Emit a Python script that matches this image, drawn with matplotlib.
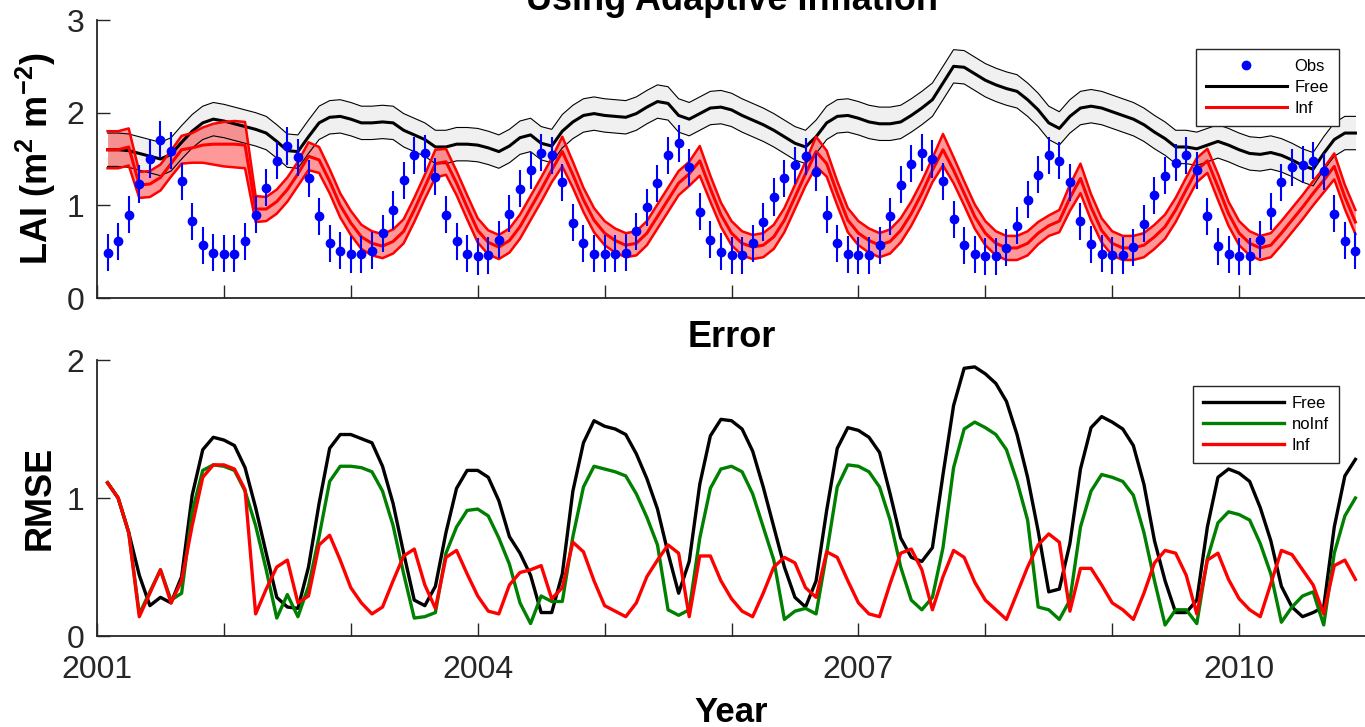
import numpy as np
import matplotlib
matplotlib.use("Agg")
import matplotlib.pyplot as plt

plt.rcParams["font.family"] = ["Liberation Sans", "DejaVu Sans"]
plt.rcParams["mathtext.fontset"] = "custom"
plt.rcParams["mathtext.rm"] = "Liberation Sans"
plt.rcParams["mathtext.bf"] = "Liberation Sans:bold"

# monthly time steps, Feb 2001 .. Nov 2010
month = np.arange(1, 120)
years = 2001 + month / 12.0

# --- LAI panel ---
obs_lai = [0.49, 0.61, 0.90, 1.23, 1.50, 1.71, 1.59, 1.26, 0.83, 0.57, 0.49, 0.48,
           0.48, 0.61, 0.90, 1.19, 1.48, 1.64, 1.52, 1.29, 0.88, 0.59, 0.51, 0.47,
           0.47, 0.51, 0.70, 0.95, 1.27, 1.54, 1.56, 1.31, 0.90, 0.61, 0.48, 0.45,
           0.46, 0.63, 0.91, 1.18, 1.38, 1.57, 1.54, 1.25, 0.81, 0.59, 0.48, 0.48,
           0.48, 0.49, 0.72, 0.98, 1.24, 1.54, 1.67, 1.41, 0.93, 0.63, 0.50, 0.46,
           0.46, 0.59, 0.82, 1.09, 1.29, 1.43, 1.53, 1.36, 0.90, 0.59, 0.47, 0.46,
           0.46, 0.57, 0.88, 1.22, 1.45, 1.57, 1.50, 1.26, 0.85, 0.57, 0.47, 0.45,
           0.45, 0.54, 0.78, 1.06, 1.33, 1.54, 1.48, 1.25, 0.83, 0.58, 0.48, 0.46,
           0.46, 0.55, 0.80, 1.11, 1.32, 1.46, 1.54, 1.38, 0.88, 0.56, 0.47, 0.45,
           0.45, 0.63, 0.93, 1.25, 1.41, 1.44, 1.48, 1.37, 0.91, 0.62, 0.51]
obs_err = 0.2

free_lai = [1.60, 1.60, 1.59, 1.56, 1.53, 1.50, 1.55, 1.68, 1.80, 1.89, 1.93, 1.91,
            1.88, 1.85, 1.82, 1.78, 1.69, 1.59, 1.58, 1.74, 1.89, 1.95, 1.96, 1.93,
            1.89, 1.89, 1.90, 1.89, 1.81, 1.76, 1.71, 1.63, 1.63, 1.66, 1.66, 1.65,
            1.62, 1.58, 1.64, 1.73, 1.76, 1.67, 1.64, 1.80, 1.90, 1.97, 1.99, 1.97,
            1.96, 1.95, 1.99, 2.06, 2.12, 2.10, 1.97, 1.93, 1.99, 2.05, 2.06, 2.03,
            1.97, 1.92, 1.87, 1.81, 1.74, 1.67, 1.63, 1.74, 1.89, 1.96, 1.97, 1.94,
            1.90, 1.88, 1.88, 1.90, 1.97, 2.05, 2.14, 2.32, 2.50, 2.49, 2.42, 2.35,
            2.30, 2.26, 2.23, 2.14, 2.03, 1.89, 1.83, 1.96, 2.05, 2.07, 2.05, 2.01,
            1.97, 1.93, 1.87, 1.79, 1.72, 1.63, 1.63, 1.61, 1.65, 1.69, 1.65, 1.60,
            1.56, 1.55, 1.57, 1.54, 1.49, 1.43, 1.39, 1.56, 1.71, 1.78, 1.78]
free_spread = 0.18

inf_lai = [1.60, 1.60, 1.63, 1.22, 1.23, 1.30, 1.45, 1.60, 1.62, 1.65, 1.66, 1.66,
           1.66, 1.65, 0.96, 0.96, 1.04, 1.17, 1.34, 1.53, 1.49, 1.26, 1.00, 0.81,
           0.66, 0.59, 0.56, 0.61, 0.72, 0.95, 1.20, 1.45, 1.47, 1.24, 0.98, 0.73,
           0.60, 0.55, 0.62, 0.77, 0.97, 1.17, 1.38, 1.58, 1.33, 1.06, 0.84, 0.70,
           0.62, 0.57, 0.59, 0.70, 0.88, 1.06, 1.24, 1.34, 1.48, 1.18, 0.90, 0.70,
           0.59, 0.55, 0.57, 0.66, 0.84, 1.09, 1.34, 1.58, 1.45, 1.13, 0.84, 0.70,
           0.62, 0.57, 0.61, 0.73, 0.91, 1.13, 1.38, 1.60, 1.38, 1.13, 0.88, 0.70,
           0.59, 0.54, 0.54, 0.59, 0.70, 0.78, 0.83, 1.08, 1.29, 0.98, 0.73, 0.59,
           0.54, 0.54, 0.57, 0.66, 0.77, 0.95, 1.17, 1.38, 1.48, 1.20, 0.91, 0.70,
           0.59, 0.54, 0.57, 0.70, 0.84, 0.98, 1.13, 1.27, 1.42, 1.09, 0.82]
inf_spread = [0.20, 0.20, 0.20, 0.14, 0.14, 0.14, 0.14, 0.15, 0.16, 0.19, 0.22, 0.24,
              0.25, 0.25, 0.14, 0.13, 0.13, 0.13, 0.13, 0.15, 0.14, 0.13, 0.13, 0.13,
              0.13, 0.13, 0.13, 0.13, 0.13, 0.13, 0.13, 0.15, 0.14, 0.13, 0.13, 0.13,
              0.13, 0.13, 0.13, 0.13, 0.13, 0.13, 0.13, 0.16, 0.14, 0.13, 0.13, 0.13,
              0.13, 0.13, 0.13, 0.13, 0.13, 0.13, 0.13, 0.13, 0.16, 0.14, 0.13, 0.13,
              0.13, 0.13, 0.13, 0.13, 0.13, 0.13, 0.13, 0.16, 0.14, 0.13, 0.13, 0.13,
              0.13, 0.13, 0.13, 0.13, 0.13, 0.13, 0.13, 0.17, 0.14, 0.13, 0.13, 0.13,
              0.13, 0.13, 0.13, 0.13, 0.12, 0.11, 0.12, 0.14, 0.16, 0.14, 0.13, 0.13,
              0.13, 0.13, 0.13, 0.13, 0.13, 0.13, 0.13, 0.13, 0.13, 0.14, 0.13, 0.13,
              0.13, 0.13, 0.13, 0.13, 0.13, 0.13, 0.13, 0.13, 0.14, 0.13, 0.13]

# --- RMSE panel ---
rmse_free = [1.11, 1.00, 0.75, 0.44, 0.22, 0.28, 0.24, 0.43, 1.02, 1.35, 1.44, 1.42,
             1.38, 1.22, 0.93, 0.60, 0.28, 0.21, 0.20, 0.50, 0.96, 1.36, 1.46, 1.46,
             1.43, 1.40, 1.23, 0.96, 0.60, 0.26, 0.22, 0.36, 0.75, 1.07, 1.20, 1.20,
             1.15, 0.98, 0.72, 0.60, 0.44, 0.17, 0.17, 0.45, 1.05, 1.40, 1.56, 1.52,
             1.50, 1.46, 1.32, 1.14, 0.92, 0.60, 0.31, 0.54, 1.10, 1.45, 1.57, 1.56,
             1.50, 1.34, 1.08, 0.79, 0.50, 0.28, 0.21, 0.40, 0.91, 1.36, 1.51, 1.49,
             1.44, 1.33, 1.03, 0.71, 0.57, 0.54, 0.64, 1.17, 1.67, 1.94, 1.95, 1.90,
             1.83, 1.70, 1.46, 1.15, 0.76, 0.32, 0.34, 0.67, 1.21, 1.51, 1.59, 1.55,
             1.50, 1.38, 1.10, 0.69, 0.40, 0.17, 0.17, 0.26, 0.79, 1.15, 1.21, 1.18,
             1.12, 0.93, 0.69, 0.36, 0.21, 0.14, 0.17, 0.21, 0.79, 1.16, 1.28]
rmse_noinf = [1.11, 1.00, 0.75, 0.16, 0.32, 0.48, 0.26, 0.31, 0.90, 1.20, 1.24, 1.23,
              1.20, 1.05, 0.80, 0.48, 0.13, 0.30, 0.14, 0.36, 0.72, 1.12, 1.23, 1.23,
              1.22, 1.19, 1.05, 0.80, 0.45, 0.13, 0.14, 0.17, 0.60, 0.79, 0.91, 0.92,
              0.87, 0.71, 0.52, 0.24, 0.09, 0.29, 0.25, 0.25, 0.72, 1.08, 1.23, 1.21,
              1.19, 1.16, 1.03, 0.86, 0.66, 0.19, 0.15, 0.19, 0.71, 1.07, 1.21, 1.23,
              1.19, 1.03, 0.79, 0.55, 0.12, 0.18, 0.20, 0.16, 0.60, 1.08, 1.24, 1.23,
              1.19, 1.08, 0.84, 0.50, 0.26, 0.19, 0.28, 0.64, 1.22, 1.50, 1.55, 1.51,
              1.46, 1.35, 1.12, 0.84, 0.21, 0.19, 0.12, 0.26, 0.79, 1.05, 1.17, 1.15,
              1.12, 1.02, 0.75, 0.40, 0.08, 0.19, 0.19, 0.09, 0.56, 0.82, 0.90, 0.88,
              0.84, 0.67, 0.45, 0.10, 0.21, 0.29, 0.32, 0.08, 0.60, 0.87, 1.00]
rmse_inf = [1.11, 1.00, 0.75, 0.14, 0.31, 0.48, 0.24, 0.40, 0.80, 1.15, 1.24, 1.24,
            1.21, 1.06, 0.16, 0.34, 0.50, 0.55, 0.24, 0.29, 0.66, 0.73, 0.55, 0.35,
            0.24, 0.16, 0.21, 0.40, 0.58, 0.63, 0.37, 0.20, 0.57, 0.62, 0.45, 0.29,
            0.18, 0.16, 0.37, 0.46, 0.48, 0.51, 0.27, 0.35, 0.68, 0.61, 0.40, 0.22,
            0.18, 0.14, 0.24, 0.43, 0.55, 0.66, 0.60, 0.14, 0.58, 0.58, 0.40, 0.27,
            0.18, 0.14, 0.31, 0.50, 0.57, 0.53, 0.35, 0.28, 0.61, 0.57, 0.40, 0.24,
            0.16, 0.14, 0.38, 0.60, 0.63, 0.48, 0.19, 0.43, 0.62, 0.57, 0.39, 0.26,
            0.19, 0.12, 0.31, 0.50, 0.66, 0.74, 0.68, 0.18, 0.49, 0.49, 0.37, 0.24,
            0.19, 0.12, 0.31, 0.53, 0.62, 0.60, 0.44, 0.16, 0.55, 0.60, 0.41, 0.27,
            0.19, 0.14, 0.38, 0.62, 0.59, 0.48, 0.37, 0.16, 0.51, 0.55, 0.41]

year_ticks = [2001, 2004, 2007, 2010]
all_years = list(range(2001, 2011))

free_lai = np.array(free_lai)
inf_lai = np.array(inf_lai)
inf_spread = np.array(inf_spread)

axcol = "#262626"
W, H = 1365, 727
fig = plt.figure(figsize=(W / 100, H / 100), dpi=100)
ax1 = fig.add_axes([97 / W, 1 - 298 / H, 1269 / W, 278 / H])
ax2 = fig.add_axes([97 / W, 1 - 636 / H, 1269 / W, 276 / H])

# top panel: ensembles and obs
ax1.fill_between(years, free_lai - free_spread, free_lai + free_spread,
                 color="#f0f0f0", lw=0, zorder=1)
ax1.fill_between(years, inf_lai - inf_spread, inf_lai + inf_spread,
                 color="red", alpha=0.4, lw=0, zorder=2)
ax1.plot(years, free_lai + free_spread, color="k", lw=0.8, zorder=3)
ax1.plot(years, free_lai - free_spread, color="k", lw=0.8, zorder=3)
h_free, = ax1.plot(years, free_lai, color="k", lw=2.2, zorder=3, label="Free")
ax1.plot(years, inf_lai + inf_spread, color="red", lw=1.8, zorder=4)
ax1.plot(years, inf_lai - inf_spread, color="red", lw=1.8, zorder=4)
h_inf, = ax1.plot(years, inf_lai, color="red", lw=2.2, zorder=4, label="Inf")
ax1.errorbar(years, obs_lai, yerr=obs_err, fmt="none", ecolor="blue",
             elinewidth=1.5, capsize=0, zorder=5)
h_obs, = ax1.plot(years, obs_lai, "o", color="blue", ms=6, zorder=6, label="Obs")

# bottom panel: errors
ax2.plot(years, rmse_free, color="k", lw=2.4, label="Free")
ax2.plot(years, rmse_noinf, color="green", lw=2.4, label="noInf")
ax2.plot(years, rmse_inf, color="red", lw=2.4, label="Inf")

for ax in (ax1, ax2):
    ax.set_xlim(2001, 2011)
    for s in ("top", "right"):
        ax.spines[s].set_visible(False)
    for s in ("left", "bottom"):
        ax.spines[s].set_color(axcol)
        ax.spines[s].set_linewidth(1.3)
    ax.set_xticks(year_ticks)
    ax.set_xticks(all_years, minor=True)
    ax.tick_params(which="both", direction="in", length=9.4, width=1,
                   color=axcol, labelcolor=axcol, labelsize=23)
    ax.tick_params(axis="y", pad=9)
    ax.tick_params(axis="x", pad=14)

ax1.set_ylim(0, 3)
ax1.set_yticks([0, 1, 2, 3])
ax1.tick_params(axis="x", labelbottom=False)
ax2.set_ylim(0, 2)
ax2.set_yticks([0, 1, 2])

ax1.set_title("Using Adaptive Inflation", fontsize=26, fontweight="bold", pad=7)
ax2.set_title("Error", fontsize=26, fontweight="bold", pad=9.4)
ax1.set_ylabel(r"LAI (m$^{\mathbf{2}}$ m$^{\mathbf{-2}}$)", fontsize=26,
               fontweight="bold")
ax2.set_ylabel("RMSE", fontsize=26, fontweight="bold")
ax1.yaxis.set_label_coords(-0.031, 0.5)
ax2.yaxis.set_label_coords(-0.031, 0.5)
ax2.set_xlabel("Year", fontsize=25, fontweight="bold")
ax2.xaxis.set_label_coords(0.5, -0.218)

leg_kw = dict(loc="upper right", borderaxespad=0, fontsize=12, handlelength=4.9,
              handletextpad=0.45, labelspacing=0.35, borderpad=0.6,
              fancybox=False, edgecolor=axcol, framealpha=1)
lg1 = ax1.legend([h_obs, h_free, h_inf], ["Obs", "Free", "Inf"],
                 bbox_to_anchor=(0.9787, 0.8957), **leg_kw)
lg2 = ax2.legend(bbox_to_anchor=(0.9787, 0.9058), **leg_kw)
for lg in (lg1, lg2):
    lg.get_frame().set_linewidth(1.0)

fig.savefig("out.png", dpi=100)
